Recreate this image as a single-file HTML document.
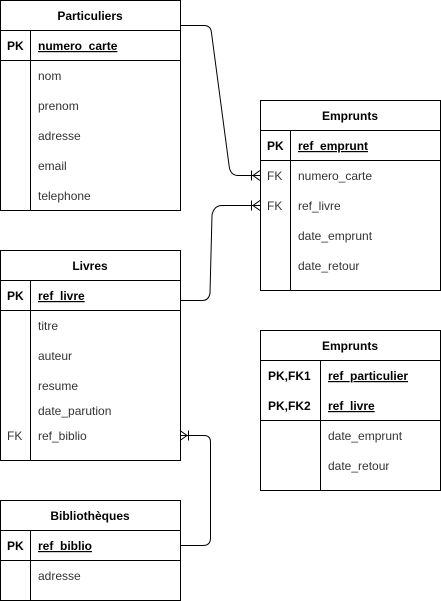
<!DOCTYPE html>
<html><head><meta charset="utf-8"><style>
html,body{margin:0;padding:0;background:#fff;width:441px;height:601px;overflow:hidden}
svg{display:block;font-family:"Liberation Sans",Arial,sans-serif;font-size:12px}
</style></head><body>
<svg width="441" height="601" viewBox="0 0 441 601">
<g fill="#fff" stroke="#000" stroke-width="1">
<rect x="0.5" y="0.5" width="180" height="210"/>
<rect x="260.5" y="100.5" width="180" height="190"/>
<rect x="0.5" y="250.5" width="180" height="210"/>
<rect x="0.5" y="500.5" width="180" height="100"/>
<rect x="260.5" y="330.5" width="180" height="160"/>
</g>
<g stroke="#000" stroke-width="1" fill="none">
<path d="M0 30.5H181M0 60.5H181M30.5 30V211"/>
<path d="M260 130.5H441M260 160.5H441M290.5 130V291"/>
<path d="M0 280.5H181M0 310.5H181M30.5 280V461"/>
<path d="M0 530.5H181M0 560.5H181M30.5 530V601"/>
<path d="M260 360.5H441M260 420.5H441M320.5 360V491"/>
<!-- connectors -->
<path d="M180 25.5H204Q211 25.5 211.5 33L229 165Q230 175.5 238 175.5H260"/>
<path d="M260 170.5L253 175.5L260 180.5M251.5 170.5V180.5"/>
<path d="M180 300.5H202Q209 300.5 210 293L212 215Q214 205.5 222 205.5H260"/>
<path d="M260 200.5L253 205.5L260 210.5M251.5 200.5V210.5"/>
<path d="M180 435.5H204Q210.5 435.5 210.5 442V538Q210.5 545.5 203 545.5H180"/>
<path d="M180 430.5L187 435.5L180 440.5M188.5 430.5V440.5"/>
</g>
<g fill="#000" text-anchor="middle" font-weight="bold">
<text x="90" y="20">Particuliers</text>
<text x="350" y="120">Emprunts</text>
<text x="90" y="270">Livres</text>
<text x="90" y="520">Bibliothèques</text>
<text x="350" y="350">Emprunts</text>
</g>
<g fill="#000" font-weight="bold">
<text x="7" y="50">PK</text>
<text x="38" y="50" text-decoration="underline">numero_carte</text>
<text x="267" y="150">PK</text>
<text x="298" y="150" text-decoration="underline">ref_emprunt</text>
<text x="7" y="300">PK</text>
<text x="38" y="300" text-decoration="underline">ref_livre</text>
<text x="7" y="550">PK</text>
<text x="38" y="550" text-decoration="underline">ref_biblio</text>
<text x="268" y="380">PK,FK1</text>
<text x="328" y="380" text-decoration="underline">ref_particulier</text>
<text x="268" y="410">PK,FK2</text>
<text x="328" y="410" text-decoration="underline">ref_livre</text>
</g>
<g fill="#333">
<text x="38" y="80">nom</text>
<text x="38" y="110">prenom</text>
<text x="38" y="140">adresse</text>
<text x="38" y="170">email</text>
<text x="38" y="200">telephone</text>
<text x="267" y="180">FK</text>
<text x="298" y="180">numero_carte</text>
<text x="267" y="210">FK</text>
<text x="298" y="210">ref_livre</text>
<text x="298" y="240">date_emprunt</text>
<text x="298" y="270">date_retour</text>
<text x="38" y="330">titre</text>
<text x="38" y="360">auteur</text>
<text x="38" y="390">resume</text>
<text x="38" y="415">date_parution</text>
<text x="7" y="440">FK</text>
<text x="38" y="440">ref_biblio</text>
<text x="38" y="580">adresse</text>
<text x="328" y="440">date_emprunt</text>
<text x="328" y="470">date_retour</text>
</g>
</svg>
</body></html>
